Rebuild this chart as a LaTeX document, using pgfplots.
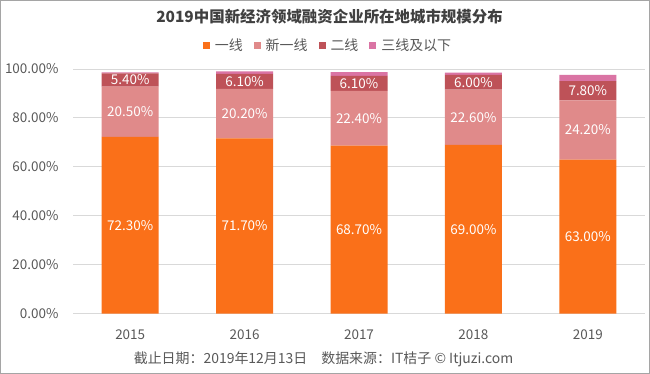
\documentclass[border=0pt]{standalone}
\usepackage{pgfplots}
\pgfplotsset{compat=1.18}
\usepackage{pgfplotstable}
\usepackage{fontspec}
\setmainfont{Noto Sans CJK SC}
\definecolor{cOne}{RGB}{250,112,25}
\definecolor{cTwo}{RGB}{224,138,138}
\definecolor{cThree}{RGB}{190,82,88}
\definecolor{cFour}{RGB}{218,116,164}
\definecolor{txt}{RGB}{89,89,89}
\definecolor{ttl}{RGB}{64,64,64}
\definecolor{gridc}{RGB}{217,217,217}
\definecolor{frame}{RGB}{165,165,165}
\pgfplotstableread{
x v
0 72.3
1 71.7
2 68.7
3 69.0
4 63.0
}\tOne
\pgfplotstableread{
x v
0 20.5
1 20.2
2 22.4
3 22.6
4 24.2
}\tTwo
\pgfplotstableread{
x v
0 5.4
1 6.1
2 6.1
3 6.0
4 7.8
}\tThree
\pgfplotstableread{
x v
0 0.4
1 1.0
2 1.5
3 0.9
4 2.6
}\tFour
\begin{document}
\begin{tikzpicture}
\useasboundingbox (0,0) rectangle (650bp,-374bp);
\fill[white] (0,0) rectangle (650bp,-374bp);
\draw[line width=1bp, frame] (0.5bp,-0.5bp) rectangle (649.5bp,-373.5bp);
\begin{axis}[
  at={(73bp,-313.7bp)}, anchor=south west,
  scale only axis, width=572bp, height=244.7bp,
  ybar stacked, bar width=57bp,
  xmin=-0.5, xmax=4.5, ymin=0, ymax=100,
  xtick={0,1,2,3,4}, xticklabels={2015,2016,2017,2018,2019},
  ytick={0,20,40,60,80,100},
  yticklabel={\pgfmathprintnumber[fixed,fixed zerofill,precision=2]{\tick}\%},
  /pgf/number format/assume math mode=true,
  ymajorgrids, grid style={gridc, line width=1bp},
  axis line style={draw=none}, major tick length=0pt,
  tick label style={font=\fontsize{13.5}{16}\selectfont, text=txt},
  xticklabel style={yshift=-13bp},
  yticklabel style={xshift=-11bp},
  every node near coord/.append style={anchor=center, text=white,
    font=\fontsize{13.5}{16}\selectfont},
  legend style={at={(0.4458,1.098)}, anchor=center, draw=none, fill=none,
    legend columns=-1, font=\fontsize{14}{16}\selectfont, text=txt,
    /tikz/every odd column/.append style={column sep=3bp},
    /tikz/every even column/.append style={column sep=9bp}},
]
\addplot[fill=cOne, draw=none, point meta=explicit,
  nodes near coords={\pgfmathprintnumber[fixed,fixed zerofill,precision=2]{\pgfplotspointmeta}\%},
  legend image code/.code={\fill[cOne] (0bp,-3.5bp) rectangle (7bp,3.5bp);}]
  table[x=x, y=v, meta=v]{\tOne};
\addplot[fill=cTwo, draw=none, point meta=explicit,
  nodes near coords={\pgfmathprintnumber[fixed,fixed zerofill,precision=2]{\pgfplotspointmeta}\%},
  legend image code/.code={\fill[cTwo] (0bp,-3.5bp) rectangle (7bp,3.5bp);}]
  table[x=x, y=v, meta=v]{\tTwo};
\addplot[fill=cThree, draw=none, point meta=explicit,
  nodes near coords={\pgfmathprintnumber[fixed,fixed zerofill,precision=2]{\pgfplotspointmeta}\%},
  legend image code/.code={\fill[cThree] (0bp,-3.5bp) rectangle (7bp,3.5bp);}]
  table[x=x, y=v, meta=v]{\tThree};
\addplot[fill=cFour, draw=none,
  legend image code/.code={\fill[cFour] (0bp,-3.5bp) rectangle (7bp,3.5bp);}]
  table[x=x, y=v]{\tFour};
\legend{一线,新一线,二线,三线及以下}
\end{axis}
\node[font=\fontsize{15.5}{18}\selectfont\bfseries, text=ttl] at (329.5bp,-17bp) {2019中国新经济领域融资企业所在地城市规模分布};
\node[font=\fontsize{14}{16}\selectfont, text=txt] at (323.5bp,-359bp) {截止日期：2019年12月13日\hspace{14bp}数据来源：IT桔子 © Itjuzi.com};
\end{tikzpicture}
\end{document}
